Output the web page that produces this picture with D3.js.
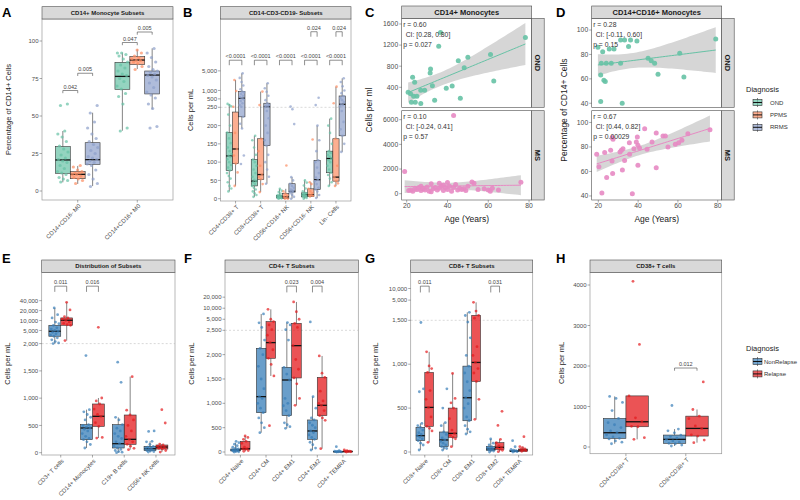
<!DOCTYPE html>
<html lang="en">
<head>
<meta charset="UTF-8">
<title>Monocyte and T cell subsets</title>
<script src="https://d3js.org/d3.v7.min.js"></script>
<style>
  body { margin: 0; background: #fff; }
  svg { font-family: 'Liberation Sans', Arial, sans-serif; }
  .tick { fill: #4d4d4d; font-size: 6px; }
  .ttl { fill: #222; font-size: 7.5px; }
  .strip-text { fill: #1a1a1a; font-size: 6px; font-weight: bold; }
  .letter { fill: #000; font-size: 13px; font-weight: bold; }
  .sig { fill: #444; font-size: 5.5px; }
</style>
</head>
<body>
<svg id="fig" width="800" height="500"></svg>
<script>
// ---- groups / colours ----
const diagGroups = ['OND', 'PPMS', 'RRMS'];
const diagColors = ['#66c2a5', '#fc8d62', '#8da0cb'];
const relapseGroups = ['NonRelapse', 'Relapse'];
const relapseColors = ['#377eb8', '#e41a1c'];
const facetGroups = ['OND', 'MS'];
const facetColors = ['#66c2a5', '#e78ac3'];

// ---- panel A ----
const aCats = ['CD14+CD16- M0', 'CD14+CD16+ M0'];
// box stats: [lower whisker, q1, median, q3, upper whisker]
const aStats = [
  [[5.8, 11.8, 20.7, 29.6, 40], [4.7, 8.2, 11.1, 12.9, 16.7], [3.3, 17.8, 20.9, 32.2, 52.2]],
  [[40.2, 67.8, 76.4, 85.8, 92.2], [81.3, 84.4, 87.3, 89.6, 94.4], [54.4, 64.7, 77.3, 80, 95.1]]
];
const aPoints = [
  [[6, 7, 8, 9, 11, 12, 13, 15, 17, 19, 20, 21, 22, 24, 26, 28, 30, 33, 36, 38, 40, 57, 58],
   [5, 7, 8, 9, 10, 11, 11, 12, 12, 13, 14, 16, 17],
   [3, 5, 8, 11, 14, 17, 18, 19, 20, 21, 22, 23, 25, 27, 29, 31, 33, 35, 38, 42, 46, 52, 57]],
  [[40, 42, 58, 63, 65, 68, 70, 73, 75, 77, 78, 80, 82, 84, 86, 88, 90, 91, 92, 92],
   [81, 83, 85, 86, 87, 87, 88, 89, 90, 92, 94],
   [42, 43, 55, 58, 62, 64, 66, 69, 72, 74, 76, 77, 78, 79, 80, 81, 83, 86, 89, 92, 95]]
];
const aTicks = [0, 25, 50, 75, 100];
const aBrackets = [[0, 0, 1, 67, '0.042'], [0, 1, 2, 78.5, '0.005'], [1, 0, 1, 99, '0.047'], [1, 1, 2, 106, '0.005']];

// ---- panel B ----
const bCats = ['CD4+CD38+ T', 'CD8+CD38+ T', 'CD56+CD16+ NK', 'CD56+CD16- NK', 'Lin- Cells'];
const bStats = [
  [[20, 77, 117, 181, 330], [35, 96, 136, 237, 2370], [192, 224, 524, 908, 4070]],
  [[5, 35, 48, 107, 172], [18, 53, 66, 164, 908], [41, 145, 265, 350, 1800]],
  [[0, 2, 5, 9, 27], [0, 0, 5, 14, 27], [0, 18, 20, 41, 59]],
  [[0, 5, 11, 16, 50], [6, 6, 11, 27, 45], [2, 25, 52, 105, 200]],
  [[35, 71, 110, 130, 219], [35, 48, 59, 164, 1366], [128, 172, 320, 635, 2700]]
];
const bPoints = [
  [[20, 28, 35, 45, 55, 62, 70, 77, 85, 92, 100, 108, 114, 117, 122, 130, 140, 152, 165, 181, 200, 230, 270, 300, 330],
   [35, 72, 96, 118, 136, 180, 260, 950, 2370],
   [95, 118, 192, 205, 224, 260, 300, 350, 420, 480, 524, 580, 650, 750, 850, 908, 1100, 1500, 2000, 2800, 4070]],
  [[5, 10, 15, 20, 25, 30, 35, 40, 45, 48, 52, 60, 70, 80, 90, 100, 107, 120, 140, 160, 172],
   [18, 40, 53, 60, 66, 90, 130, 164, 300, 908],
   [41, 60, 80, 100, 120, 145, 160, 180, 200, 220, 240, 255, 265, 280, 300, 350, 450, 650, 900, 1200, 1800]],
  [[0, 1, 2, 2, 3, 4, 5, 5, 6, 8, 9, 10, 14, 18, 22, 27],
   [0, 0, 2, 5, 8, 14, 20, 91],
   [0, 5, 10, 15, 18, 19, 20, 22, 25, 30, 35, 41, 50, 59, 204, 245, 265]],
  [[0, 2, 4, 5, 7, 9, 11, 12, 13, 15, 16, 20, 28, 36, 44, 50],
   [6, 8, 10, 11, 15, 20, 27, 40, 45, 162],
   [2, 10, 20, 25, 30, 40, 48, 52, 58, 70, 85, 100, 105, 130, 160, 200, 300, 550]],
  [[35, 45, 55, 65, 71, 80, 90, 100, 105, 110, 115, 120, 125, 130, 150, 180, 200, 219],
   [35, 42, 48, 59, 90, 164, 350, 1366],
   [128, 150, 172, 190, 210, 240, 270, 300, 320, 380, 450, 530, 635, 800, 1000, 1400, 2000, 2700]]
];
const bTicks = [0, 50, 100, 150, 200, 250, 500, 1000, 5000];
const bBrackets = [[0, 0, 2, 12000, '<0.0001'], [1, 0, 2, 12000, '<0.0001'], [2, 0, 2, 12000, '<0.0001'],
  [3, 0, 2, 12000, '<0.0001'], [4, 0, 2, 12000, '<0.0001'], [3, 1, 2, 125000, '0.024'], [4, 1, 2, 125000, '0.024']];

// ---- panel C / D ----
const cOndAge = [36.6, 35.7, 78.2, 61.1, 50, 45.3, 48.2, 31.7, 31.5, 62.7, 22.9, 23.9, 32.6, 42.3, 39.4, 28.8, 26.9, 25, 23.4, 20.7, 21.9, 22.3, 24.2, 26.9, 33.7, 46.3];
const cOndVal = [1438, 1180, 1343, 1023, 972, 903, 771, 746, 670, 520, 589, 494, 431, 425, 381, 343, 343, 230, 230, 306, 280, 117, 117, 92, 155, 192];
const cMsAge = [21, 22, 23, 24, 25, 26, 27, 27, 28, 29, 30, 31, 32, 32, 33, 34, 35, 36, 36, 37, 38, 38, 39, 40, 40, 41, 42, 43, 44, 45, 46, 47, 48, 49, 50, 52, 53, 55, 58, 60, 61, 62, 65, 76, 19, 43];
const cMsVal = [250, 300, 200, 450, 350, 500, 250, 600, 400, 300, 550, 200, 800, 150, 400, 500, 300, 850, 450, 600, 250, 700, 500, 900, 350, 600, 200, 500, 750, 300, 450, 350, 400, 250, 600, 950, 850, 350, 400, 300, 200, 450, 300, 920, 1800, 6350];
const dOndAge = [79, 19.8, 22.2, 25.5, 27.9, 31.2, 33.2, 36.2, 39.4, 35.2, 45, 46.6, 48.3, 60.9, 50, 63, 21.5, 24, 26.5, 31.2, 21.2, 22.8, 23.5, 21.2, 32];
const dOndVal = [92.6, 85.8, 82.3, 84.5, 84.5, 91.8, 91.8, 91.8, 91, 86.4, 76.8, 74.9, 72.8, 80.9, 63.8, 61.6, 72.8, 72.8, 72.8, 72.8, 63.2, 58.9, 57.8, 41.4, 40];
const dMsAge = [76.1, 65, 49.1, 52.5, 53.7, 43.3, 39.9, 39.1, 35.6, 31.6, 32.4, 30.9, 23.2, 19.2, 26.2, 27.4, 27, 33.2, 35.7, 37.9, 40.7, 44.5, 47, 55, 58.7, 60.4, 62, 20.3, 26.9, 27.2, 24.2, 32.1, 39.9, 49.1, 21.8, 37.1, 39.6];
const dMsVal = [94.1, 90.8, 91.4, 88.9, 88.9, 94.9, 81.4, 84.1, 83.5, 77.3, 78.6, 75.9, 75.4, 74.1, 77.3, 86.2, 87.8, 68.9, 74.1, 78.6, 79.2, 78.1, 84.1, 80, 82.2, 83.5, 85.4, 63.8, 68.6, 58.4, 55.1, 61.1, 65.1, 63, 42.4, 41.9, 88.1];
const cNotes = [['r = 0.60', 'CI: [0.28, 0.80]', 'p = 0.027'], ['r = 0.10', 'CI: [-0.24, 0.41]', 'p = 0.57']];
const dNotes = [['r = 0.28', 'CI: [-0.11, 0.60]', 'p = 0.15'], ['r = 0.67', 'CI: [0.44, 0.82]', 'p = 0.00029']];
const ageTicks = [20, 40, 60, 80];
const cOndTicks = [400, 800, 1200, 1600];
const cMsTicks = [0, 2000, 4000, 6000];
const dTicks = [40, 60, 80, 100];

// ---- panel E ----
const eCats = ['CD3+ T cells', 'CD14+ Monocytes', 'C19+ B cells', 'CD56+ NK cells'];
const eStats = [
  [[2000, 3340, 4730, 7180, 24100], [2470, 7180, 10200, 12000, 35700]],
  [[86, 239, 453, 514, 789], [269, 483, 667, 893, 1003]],
  [[0, 86, 165, 514, 648], [55, 153, 245, 691, 1394]],
  [[12, 37, 73, 116, 208], [12, 67, 104, 141, 159]]
];
const ePoints = [
  [[2000, 2100, 2300, 2600, 3000, 3340, 3600, 4000, 4400, 4730, 5000, 5500, 6000, 7180, 8000, 9000, 12000, 15000, 24100],
   [2470, 7180, 7500, 8200, 9000, 10200, 11000, 12000, 13000, 21000, 35700]],
  [[86, 150, 200, 239, 260, 300, 350, 400, 430, 453, 470, 500, 514, 600, 650, 700, 750, 789, 1780],
   [269, 280, 483, 550, 667, 700, 800, 893, 950, 1003, 6240]],
  [[0, 10, 20, 40, 60, 86, 120, 165, 200, 260, 300, 350, 400, 450, 514, 600, 648, 1290, 1660],
   [55, 80, 120, 153, 200, 245, 300, 400, 500, 600, 691, 780, 1394]],
  [[12, 20, 30, 37, 50, 60, 73, 85, 100, 116, 150, 200, 208, 390, 400],
   [12, 40, 67, 80, 95, 104, 120, 141, 159, 544, 789]]
];
const eTicks = [0, 500, 1000, 1500, 2000, 5000, 10000, 20000, 40000];
const eBrackets = [[0, 0, 1, 110000, '0.011'], [1, 0, 1, 110000, '0.016']];

// ---- panel F ----
const fCats = ['CD4+ Naive', 'CD4+ CM', 'CD4+ EM1', 'CD4+ EM2', 'CD4+ TEMRA'];
const fStats = [
  [[0, 21, 41, 62, 192], [14, 55, 68, 219, 329]],
  [[397, 808, 1137, 2130, 6970], [1562, 1925, 2247, 4320, 9320]],
  [[486, 747, 1479, 1740, 4047], [959, 1521, 2185, 3870, 14800]],
  [[41, 260, 432, 658, 1137], [68, 747, 959, 1534, 1973]],
  [[0, 0, 7, 14, 20], [0, 0, 10, 20, 41]]
];
const fPoints = [
  [[0, 5, 10, 20, 25, 30, 40, 45, 50, 62, 80, 100, 130, 160, 192, 220],
   [14, 30, 55, 60, 68, 100, 180, 219, 260, 300, 329]],
  [[397, 500, 600, 700, 808, 900, 1000, 1100, 1137, 1300, 1500, 1760, 2000, 2130, 2300, 3000, 4000, 6970],
   [541, 1562, 1800, 1925, 2100, 2247, 2400, 2600, 3500, 4320, 5000, 9320]],
  [[486, 520, 560, 600, 747, 850, 950, 1000, 1100, 1479, 1600, 1740, 2300, 2600, 3500, 4047],
   [959, 1100, 1400, 1521, 1700, 1900, 2185, 3000, 3870, 5000, 8000, 14800]],
  [[41, 80, 150, 200, 260, 300, 350, 400, 432, 500, 550, 600, 658, 700, 900, 1137, 4220],
   [68, 650, 700, 747, 850, 959, 1000, 1050, 1250, 1534, 1620, 1973]],
  [[0, 2, 5, 7, 10, 14, 20, 30, 110],
   [0, 5, 10, 15, 20, 30, 41]]
];
const fTicks = [0, 500, 1000, 1500, 2000, 2500, 5000, 10000, 20000];
const fBrackets = [[2, 0, 1, 40000, '0.023'], [3, 0, 1, 40000, '0.004']];

// ---- panel G ----
const gCats = ['CD8+ Naive', 'CD8+ CM', 'CD8+ EM1', 'CD8+ EM2', 'CD8+ TEMRA'];
const gStats = [
  [[23, 129, 186, 281, 326], [110, 292, 508, 906, 1141]],
  [[23, 61, 137, 228, 334], [61, 167, 212, 500, 895]],
  [[205, 356, 618, 978, 2410], [372, 804, 1020, 2020, 4380]],
  [[0, 19, 34, 61, 148], [4, 30, 53, 106, 144]],
  [[0, 4, 8, 15, 30], [8, 8, 23, 34, 61]]
];
const gPoints = [
  [[23, 80, 100, 129, 150, 170, 186, 200, 220, 250, 281, 300, 326, 686, 720, 1475],
   [110, 240, 270, 292, 400, 508, 600, 700, 906, 950, 980, 1141]],
  [[23, 40, 50, 61, 80, 100, 120, 137, 160, 200, 228, 300, 334, 500, 720],
   [61, 150, 167, 190, 212, 250, 380, 500, 560, 610, 895]],
  [[205, 230, 260, 300, 356, 400, 500, 550, 618, 700, 800, 900, 978, 1100, 1300, 1480, 2000, 2410],
   [372, 600, 804, 900, 950, 1020, 1100, 1200, 1700, 2020, 2600, 4380]],
  [[0, 10, 19, 25, 34, 40, 50, 61, 80, 100, 148],
   [4, 20, 30, 45, 53, 70, 106, 144, 303, 463]],
  [[0, 4, 8, 12, 15, 20, 30, 60, 129],
   [8, 15, 23, 30, 34, 50, 61, 174]]
];
const gTicks = [0, 500, 1000, 1500, 5000, 10000];
const gBrackets = [[0, 0, 1, 11500, '0.011'], [3, 0, 1, 11500, '0.031']];

// ---- panel H ----
const hCats = ['CD4+CD38+ T', 'CD8+CD38+ T'];
const hStats = [
  [[80, 213, 352, 705, 1250], [189, 500, 623, 1262, 1262]],
  [[25, 90, 189, 295, 443], [107, 270, 459, 762, 926]]
];
const hPoints = [
  [[80, 120, 150, 200, 213, 250, 300, 352, 400, 480, 550, 600, 705, 900, 1100, 1200, 1250],
   [189, 230, 500, 510, 623, 720, 1262, 2533, 4090]],
  [[25, 50, 80, 90, 120, 150, 189, 220, 260, 295, 350, 400, 443, 1025],
   [107, 170, 270, 300, 459, 520, 700, 762, 926, 1607]]
];
const hTicks = [0, 1000, 2000, 3000, 4000];
const hBrackets = [[1, 0, 1, 1950, '0.012']];

// ------------------------------------------------------------
const svg = d3.select('#fig');
const comma = d3.format(',');

// linear up to the break value, log above it (broken axis)
function brokenScale(breakV, y0, yBreak, pxPerDecade) {
  const lin = d3.scaleLinear().domain([0, breakV]).range([y0, yBreak]);
  const lg = d3.scaleLog().domain([breakV, breakV * 10]).range([yBreak, yBreak - pxPerDecade]);
  return v => v <= breakV ? lin(v) : lg(v);
}

// deterministic jitter in [-0.5, 0.5)
const jit = i => ((i * 0.618034 + 0.31) % 1) - 0.5;

function strip(g, x0, x1, y0, y1, label, size) {
  g.append('rect').attr('x', x0).attr('y', y0).attr('width', x1 - x0).attr('height', y1 - y0)
    .attr('fill', '#d9d9d9').attr('stroke', '#4d4d4d').attr('stroke-width', 0.6);
  g.append('text').attr('class', 'strip-text').attr('x', (x0 + x1) / 2).attr('y', (y0 + y1) / 2)
    .attr('dy', '0.35em').attr('text-anchor', 'middle').style('font-size', size + 'px').text(label);
}

function yTitle(x, y, label, size) {
  svg.append('text').attr('class', 'ttl').attr('transform', `translate(${x},${y}) rotate(-90)`)
    .attr('text-anchor', 'middle').attr('dy', '0.35em').style('font-size', size + 'px').text(label);
}

function boxPanel(p) {
  const g = svg.append('g');
  const x = d3.scaleBand().domain(p.cats).range([p.x0, p.x1]).paddingInner(0).paddingOuter(0.1);
  const ng = p.groups.length;
  const bw = x.bandwidth() * 0.75 / ng;
  const cx = (ci, gi) => x(p.cats[ci]) + x.bandwidth() / 2 + (gi - (ng - 1) / 2) * bw;
  const y = p.y;

  g.append('rect').attr('x', p.x0).attr('y', p.y0).attr('width', p.x1 - p.x0).attr('height', p.y1 - p.y0)
    .attr('fill', '#fff').attr('stroke', '#9a9a9a').attr('stroke-width', 0.7);

  if (p.breakV) {
    g.append('line').attr('x1', p.x0).attr('x2', p.x1).attr('y1', y(p.breakV)).attr('y2', y(p.breakV))
      .attr('stroke', '#b3b3b3').attr('stroke-width', 0.5).attr('stroke-dasharray', '2,2');
  }

  p.stats.forEach((row, ci) => row.forEach((s, gi) => {
    const c = cx(ci, gi);
    const [lo, q1, md, q3, hi] = s;
    g.append('line').attr('x1', c).attr('x2', c).attr('y1', y(lo)).attr('y2', y(q1))
      .attr('stroke', '#333').attr('stroke-width', 0.6);
    g.append('line').attr('x1', c).attr('x2', c).attr('y1', y(q3)).attr('y2', y(hi))
      .attr('stroke', '#333').attr('stroke-width', 0.6);
    g.append('rect').attr('x', c - bw / 2).attr('width', bw).attr('y', y(q3))
      .attr('height', Math.max(0.5, y(q1) - y(q3)))
      .attr('fill', p.colors[gi]).attr('fill-opacity', p.boxAlpha)
      .attr('stroke', '#333').attr('stroke-width', 0.6);
    g.append('line').attr('x1', c - bw / 2).attr('x2', c + bw / 2).attr('y1', y(md)).attr('y2', y(md))
      .attr('stroke', '#111').attr('stroke-width', 1.3);
  }));

  p.points.forEach((row, ci) => row.forEach((vals, gi) => {
    const c = cx(ci, gi);
    g.selectAll(null).data(vals).enter().append('circle')
      .attr('cx', (d, i) => c + jit(i) * bw * 0.75)
      .attr('cy', d => y(d)).attr('r', p.r)
      .attr('fill', p.colors[gi]).attr('fill-opacity', 0.7);
  }));

  p.brackets.forEach(([ci, ga, gb, v, lab]) => {
    const xa = cx(ci, ga), xb = cx(ci, gb), yy = y(v);
    g.append('path').attr('d', `M${xa},${yy + p.leg}V${yy}H${xb}V${yy + p.leg}`)
      .attr('fill', 'none').attr('stroke', '#444').attr('stroke-width', 0.6);
    g.append('text').attr('class', 'sig').attr('x', (xa + xb) / 2).attr('y', yy - 1.8)
      .attr('text-anchor', 'middle').text(lab);
  });

  strip(g, p.x0, p.x1, p.y0 - 12.3, p.y0, p.title, 6);

  p.ticks.forEach(t => {
    g.append('line').attr('x1', p.x0 - 2.5).attr('x2', p.x0).attr('y1', y(t)).attr('y2', y(t))
      .attr('stroke', '#555').attr('stroke-width', 0.5);
    g.append('text').attr('class', 'tick').attr('x', p.x0 - 3.5).attr('y', y(t)).attr('dy', '0.35em')
      .attr('text-anchor', 'end').text(p.fmt(t));
  });
  p.cats.forEach(c => {
    const xc = x(c) + x.bandwidth() / 2;
    g.append('line').attr('x1', xc).attr('x2', xc).attr('y1', p.y1).attr('y2', p.y1 + 2.5)
      .attr('stroke', '#555').attr('stroke-width', 0.5);
    g.append('text').attr('class', 'tick').attr('text-anchor', 'end')
      .attr('transform', `translate(${xc + 2},${p.y1 + 5}) rotate(-45)`).attr('dy', '0.35em').text(c);
  });
  yTitle(p.titleX, (p.y0 + p.y1) / 2, p.ytitle, 7.5);
}

function fitBand(xs, ys) {
  const n = xs.length, mx = d3.mean(xs), my = d3.mean(ys);
  const sxx = d3.sum(xs, v => (v - mx) ** 2);
  const sxy = d3.sum(xs.map((v, i) => (v - mx) * (ys[i] - my)));
  const b = sxy / sxx, a = my - b * mx;
  const s = Math.sqrt(d3.sum(xs.map((v, i) => (ys[i] - a - b * v) ** 2)) / (n - 2));
  const t = 1.96 + 2.4 / (n - 2);
  return { fit: v => a + b * v, se: v => t * s * Math.sqrt(1 / n + (v - mx) ** 2 / sxx) };
}

function scatterPanel(p) {
  const g = svg.append('g');
  const x = d3.scaleLinear().domain(p.xDomain).range([p.x0, p.x1]);
  p.rows.forEach((r, ri) => {
    const y = d3.scaleLinear().domain(r.domain).range([r.y1, r.y0]);
    const clipId = 'clip' + p.id + ri;
    g.append('clipPath').attr('id', clipId).append('rect')
      .attr('x', p.x0).attr('y', r.y0).attr('width', p.x1 - p.x0).attr('height', r.y1 - r.y0);
    g.append('rect').attr('x', p.x0).attr('y', r.y0).attr('width', p.x1 - p.x0).attr('height', r.y1 - r.y0)
      .attr('fill', '#fff');
    const pg = g.append('g').attr('clip-path', `url(#${clipId})`);
    const lm = fitBand(r.ages, r.vals);
    const xs = d3.range(41).map(i => d3.min(r.ages) + i / 40 * (d3.max(r.ages) - d3.min(r.ages)));
    pg.append('path').datum(xs)
      .attr('d', d3.area().x(d => x(d)).y0(d => y(lm.fit(d) - lm.se(d))).y1(d => y(lm.fit(d) + lm.se(d))))
      .attr('fill', '#999').attr('fill-opacity', 0.4);
    pg.append('path').datum(xs).attr('d', d3.line().x(d => x(d)).y(d => y(lm.fit(d))))
      .attr('fill', 'none').attr('stroke', facetColors[ri]).attr('stroke-width', 1);
    pg.selectAll(null).data(r.ages).enter().append('circle')
      .attr('cx', d => x(d)).attr('cy', (d, i) => y(r.vals[i])).attr('r', 2.5)
      .attr('fill', facetColors[ri]).attr('fill-opacity', 0.9);
    g.append('rect').attr('x', p.x0).attr('y', r.y0).attr('width', p.x1 - p.x0).attr('height', r.y1 - r.y0)
      .attr('fill', 'none').attr('stroke', '#4d4d4d').attr('stroke-width', 0.6);
    r.notes.forEach((txt, k) => {
      g.append('text').attr('x', p.x0 + (k === 1 ? 4 : 1.5)).attr('y', r.y0 + 6 + k * 10).attr('dy', '0.35em')
        .style('font-size', '6.8px').attr('fill', '#333').text(txt);
    });
    r.ticks.forEach(t => {
      g.append('line').attr('x1', p.x0 - 2.5).attr('x2', p.x0).attr('y1', y(t)).attr('y2', y(t))
        .attr('stroke', '#555').attr('stroke-width', 0.5);
      g.append('text').attr('class', 'tick').style('font-size', '6.8px').attr('x', p.x0 - 3.5).attr('y', y(t))
        .attr('dy', '0.35em').attr('text-anchor', 'end').text(t);
    });
    const sx = p.x1, sw = 12.5;
    g.append('rect').attr('x', sx).attr('y', r.y0).attr('width', sw).attr('height', r.y1 - r.y0)
      .attr('fill', '#d9d9d9').attr('stroke', '#4d4d4d').attr('stroke-width', 0.6);
    g.append('text').attr('class', 'strip-text').style('font-size', '7.5px')
      .attr('transform', `translate(${sx + sw / 2},${(r.y0 + r.y1) / 2}) rotate(90)`)
      .attr('text-anchor', 'middle').attr('dy', '0.35em').text(facetGroups[ri]);
  });
  const yb = p.rows[p.rows.length - 1].y1;
  ageTicks.forEach(t => {
    g.append('line').attr('x1', x(t)).attr('x2', x(t)).attr('y1', yb).attr('y2', yb + 2.5)
      .attr('stroke', '#555').attr('stroke-width', 0.5);
    g.append('text').attr('class', 'tick').style('font-size', '6.8px').attr('x', x(t)).attr('y', yb + 7.5)
      .attr('text-anchor', 'middle').text(t);
  });
  strip(g, p.x0, p.x1, 6, p.rows[0].y0, p.title, 7.5);
  g.append('text').attr('class', 'ttl').style('font-size', '8.5px').attr('x', (p.x0 + p.x1) / 2).attr('y', 222)
    .attr('text-anchor', 'middle').text('Age (Years)');
  yTitle(p.titleX, 110, p.ytitle, 8.5);
}

function legend(x, y, groups, colors, labelX) {
  const g = svg.append('g');
  g.append('text').attr('x', x).attr('y', y).style('font-size', '7.5px').attr('fill', '#222').text('Diagnosis');
  groups.forEach((name, i) => {
    const cy = y + 10.5 + i * 12.4, kx = x + 7;
    g.append('line').attr('x1', kx + 4.5).attr('x2', kx + 4.5).attr('y1', cy - 4.5).attr('y2', cy + 4.5)
      .attr('stroke', '#333').attr('stroke-width', 0.6);
    g.append('rect').attr('x', kx).attr('y', cy - 3).attr('width', 9).attr('height', 6)
      .attr('fill', colors[i]).attr('fill-opacity', 0.7).attr('stroke', '#333').attr('stroke-width', 0.6);
    g.append('line').attr('x1', kx).attr('x2', kx + 9).attr('y1', cy).attr('y2', cy)
      .attr('stroke', '#111').attr('stroke-width', 1);
    g.append('text').attr('x', labelX).attr('y', cy).attr('dy', '0.35em').style('font-size', '6px')
      .attr('fill', '#333').text(name);
  });
}

// ---- draw ----
boxPanel({ x0: 42, x1: 173, y0: 19, y1: 200, y: d3.scaleLinear().domain([0, 100]).range([191, 41]),
  cats: aCats, groups: diagGroups, colors: diagColors, stats: aStats, points: aPoints, ticks: aTicks,
  fmt: d => d, brackets: aBrackets, leg: 2.7, r: 1.6, boxAlpha: 0.7, title: 'CD14+ Monocyte Subsets',
  ytitle: 'Percentage of CD14+ Cells', titleX: 8 });

boxPanel({ x0: 220.5, x1: 351, y0: 19, y1: 201, y: brokenScale(250, 198.7, 107.3, 28), breakV: 250,
  cats: bCats, groups: diagGroups, colors: diagColors, stats: bStats, points: bPoints, ticks: bTicks,
  fmt: comma, brackets: bBrackets, leg: 5, r: 1.3, boxAlpha: 0.7, title: 'CD14-CD3-CD19- Subsets',
  ytitle: 'Cells per mL', titleX: 190 });

scatterPanel({ id: 'c', x0: 401.7, x1: 531.7, xDomain: [17.55, 81.3], title: 'CD14+ Monocytes',
  ytitle: 'Cells per ml', titleX: 369,
  rows: [
    { y0: 18.3, y1: 107.3, domain: [20.9, 1708], ages: cOndAge, vals: cOndVal, ticks: cOndTicks, notes: cNotes[0] },
    { y0: 110.7, y1: 200, domain: [-511, 6730], ages: cMsAge, vals: cMsVal, ticks: cMsTicks, notes: cNotes[1] }
  ] });

scatterPanel({ id: 'd', x0: 591.7, x1: 721.7, xDomain: [16.68, 82.0], title: 'CD14+CD16+ Monocytes',
  ytitle: 'Percentage of CD14+ Cells', titleX: 564,
  rows: [
    { y0: 18.3, y1: 107.3, domain: [36.7, 109.6], ages: dOndAge, vals: dOndVal, ticks: dTicks, notes: dNotes[0] },
    { y0: 110.7, y1: 200, domain: [36.7, 109.6], ages: dMsAge, vals: dMsVal, ticks: dTicks, notes: dNotes[1] }
  ] });

legend(746, 92, diagGroups, diagColors, 770);

boxPanel({ x0: 41.7, x1: 175, y0: 272.3, y1: 455, y: brokenScale(2000, 452.7, 343.6, 33), breakV: 2000,
  cats: eCats, groups: relapseGroups, colors: relapseColors, stats: eStats, points: ePoints, ticks: eTicks,
  fmt: comma, brackets: eBrackets, leg: 5.7, r: 1.4, boxAlpha: 0.75, title: 'Distribution of Subsets',
  ytitle: 'Cells per mL', titleX: 7 });

boxPanel({ x0: 225, x1: 358.3, y0: 272.3, y1: 455, y: brokenScale(2500, 452, 330.3, 36.7), breakV: 2500,
  cats: fCats, groups: relapseGroups, colors: relapseColors, stats: fStats, points: fPoints, ticks: fTicks,
  fmt: comma, brackets: fBrackets, leg: 6.3, r: 1.4, boxAlpha: 0.75, title: 'CD4+ T Subsets',
  ytitle: 'Cells per mL', titleX: 191 });

boxPanel({ x0: 410.7, x1: 532.7, y0: 272.3, y1: 455, y: brokenScale(1500, 452, 320.3, 38.6), breakV: 1500,
  cats: gCats, groups: relapseGroups, colors: relapseColors, stats: gStats, points: gPoints, ticks: gTicks,
  fmt: comma, brackets: gBrackets, leg: 6.3, r: 1.4, boxAlpha: 0.75, title: 'CD8+ T Subsets',
  ytitle: 'Cells per mL', titleX: 375 });

boxPanel({ x0: 590, x1: 721.7, y0: 272.3, y1: 453.7, y: d3.scaleLinear().domain([0, 4000]).range([447, 285]),
  cats: hCats, groups: relapseGroups, colors: relapseColors, stats: hStats, points: hPoints, ticks: hTicks,
  fmt: d => d, brackets: hBrackets, leg: 2.7, r: 1.4, boxAlpha: 0.75, title: 'CD38+ T cells',
  ytitle: 'Cells per mL', titleX: 561.7 });

legend(746, 351, relapseGroups, relapseColors, 764);

// panel letters
[['A', 2, 17], ['B', 183, 17], ['C', 365, 17], ['D', 556, 17],
 ['E', 2, 263], ['F', 184, 263], ['G', 365, 263], ['H', 556, 263]].forEach(([l, lx, ly]) => {
  svg.append('text').attr('class', 'letter').attr('x', lx).attr('y', ly).text(l);
});
</script>
</body>
</html>
